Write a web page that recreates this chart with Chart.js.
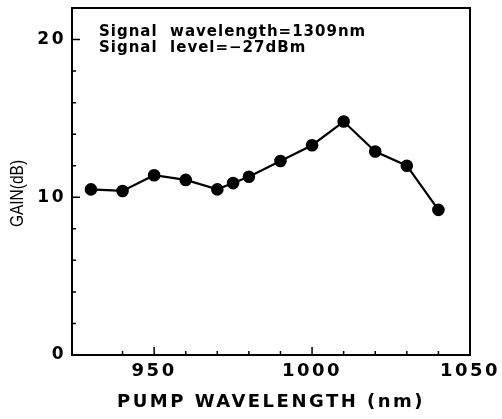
<!DOCTYPE html>
<html>
<head>
<meta charset="utf-8">
<script src="https://cdn.jsdelivr.net/npm/chart.js@4/dist/chart.umd.min.js"></script>
<style>
  html, body { margin: 0; padding: 0; background: #fff; }
  #wrap { width: 502px; height: 419px; }
</style>
</head>
<body>
<div id="wrap"><canvas id="chart"></canvas></div>
<script>
const pumpWavelength = [930, 940, 950, 960, 970, 975, 980, 990, 1000, 1010, 1020, 1030, 1040];
const gain = [10.5, 10.4, 11.4, 11.1, 10.5, 10.9, 11.3, 12.3, 13.3, 14.8, 12.9, 12.0, 9.2];
const xLabels = [950, 1000, 1050];
const yLabels = [0, 10, 20];
const noteLines = ['Signal  wavelength=1309nm', 'Signal  level=\u221227dBm'];
const yTitle = 'GAIN(dB)';

const font = '"DejaVu Sans", "Liberation Sans", sans-serif';

// wide old-style lettering for the axis labels
const spacing = {
    id: 'spacing',
    beforeLayout(chart) { chart.ctx.letterSpacing = '2.5px'; },
    beforeDraw(chart) { chart.ctx.letterSpacing = '2.5px'; }
};

// frame, inward tick marks, y title and the note in the top left corner
const frameAndTicks = {
    id: 'frameAndTicks',
    afterDraw(chart) {
        const { ctx, chartArea: a, scales: { x, y } } = chart;
        ctx.save();
        ctx.strokeStyle = '#000';
        ctx.lineWidth = 2;
        ctx.strokeRect(a.left, a.top, a.right - a.left, a.bottom - a.top);

        ctx.lineWidth = 1.5;
        ctx.beginPath();
        x.ticks.forEach(t => {
            const px = x.getPixelForValue(t.value);
            const len = xLabels.includes(t.value) ? 8 : 4;
            ctx.moveTo(px, a.bottom);
            ctx.lineTo(px, a.bottom - len);
        });
        y.ticks.forEach(t => {
            const py = y.getPixelForValue(t.value);
            const len = yLabels.includes(t.value) ? 8 : 4;
            ctx.moveTo(a.left, py);
            ctx.lineTo(a.left + len, py);
        });
        ctx.stroke();

        ctx.fillStyle = '#000';
        ctx.textBaseline = 'middle';
        ctx.letterSpacing = '1px';
        ctx.font = 'bold 15px ' + font;
        noteLines.forEach((s, i) => ctx.fillText(s, a.left + 27, a.top + 24 + i * 16));

        ctx.letterSpacing = '0px';
        ctx.font = '18px "Liberation Sans", Arial, sans-serif';
        ctx.textAlign = 'center';
        ctx.translate(18, (a.top + a.bottom) / 2 + 12);
        ctx.rotate(-Math.PI / 2);
        ctx.scale(0.86, 1);
        ctx.fillText(yTitle, 0, 0);
        ctx.restore();
    }
};

new Chart(document.querySelector('#chart'), {
    type: 'line',
    data: {
        datasets: [{
            data: pumpWavelength.map((w, i) => ({ x: w, y: gain[i] })),
            borderColor: '#000',
            backgroundColor: '#000',
            borderWidth: 2.2,
            pointRadius: 5.2,
            pointBackgroundColor: '#000',
            tension: 0
        }]
    },
    options: {
        responsive: true,
        maintainAspectRatio: false,
        animation: false,
        layout: { padding: { top: 8, right: 32, left: 0, bottom: 0 } },
        plugins: { legend: { display: false }, tooltip: { enabled: false } },
        scales: {
            x: {
                type: 'linear',
                min: 924,
                max: 1050,
                grid: { display: false, drawTicks: false },
                border: { display: false },
                afterBuildTicks: s => { s.ticks = s.ticks.filter(t => t.value % 10 === 0); },
                afterFit: s => { s.height = 64; s.paddingLeft = 0; s.paddingRight = 0; },
                ticks: {
                    stepSize: 10,
                    autoSkip: false,
                    maxRotation: 0,
                    padding: 6,
                    color: '#000',
                    font: { family: font, size: 18, weight: 'bold' },
                    callback: v => xLabels.includes(v) ? String(v) : ''
                },
                title: {
                    display: true,
                    text: 'PUMP WAVELENGTH (nm)',
                    color: '#000',
                    padding: { top: 4, bottom: 6 },
                    font: { family: font, size: 18, weight: 'bold' }
                }
            },
            y: {
                min: 0,
                max: 22,
                grid: { display: false, drawTicks: false },
                border: { display: false },
                afterBuildTicks: s => { s.ticks = s.ticks.filter(t => t.value <= 20); },
                afterFit: s => { s.width = 72; s.paddingTop = 0; s.paddingBottom = 0; },
                ticks: {
                    stepSize: 2,
                    autoSkip: false,
                    padding: 6,
                    color: '#000',
                    font: { family: font, size: 17, weight: 'bold' },
                    callback: v => yLabels.includes(v) ? String(v) : ''
                },
                title: { display: false }
            }
        }
    },
    plugins: [spacing, frameAndTicks]
});
</script>
</body>
</html>
